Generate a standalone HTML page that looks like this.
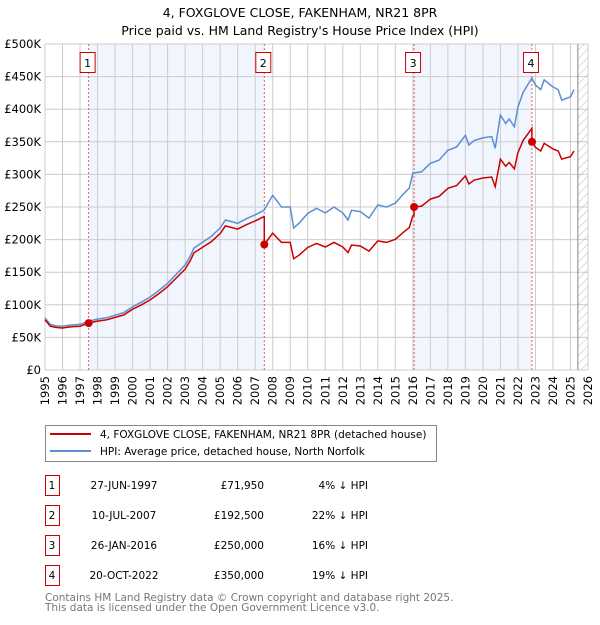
<!DOCTYPE html>
<html><head><meta charset="utf-8"><style>
body{margin:0;background:#fff;}
svg text{font-family:"DejaVu Sans","Liberation Sans",sans-serif;}
</style></head><body>
<svg id="c" width="600" height="620" xmlns="http://www.w3.org/2000/svg">
<text x="300" y="17" font-size="12.5" text-anchor="middle">4, FOXGLOVE CLOSE, FAKENHAM, NR21 8PR</text>
<text x="300" y="35" font-size="12.5" text-anchor="middle">Price paid vs. HM Land Registry's House Price Index (HPI)</text>
<g id="plot"></g>
<g>
<rect x="45.5" y="425.5" width="391" height="36" fill="#fff" stroke="#888"/>
<line x1="50" y1="434" x2="91" y2="434" stroke="#cc0000" stroke-width="2"/>
<text x="100" y="438" font-size="10.5">4, FOXGLOVE CLOSE, FAKENHAM, NR21 8PR (detached house)</text>
<line x1="50" y1="451" x2="91" y2="451" stroke="#5b8fd4" stroke-width="2"/>
<text x="100" y="455" font-size="10.5">HPI: Average price, detached house, North Norfolk</text>
</g>
<g id="table"></g>
<text x="45" y="601" font-size="10.5" fill="#777">Contains HM Land Registry data © Crown copyright and database right 2025.</text>
<text x="45" y="611" font-size="10.5" fill="#777">This data is licensed under the Open Government Licence v3.0.</text>
</svg>
<script>
const hpiYears=[1995,1995.3,1995.6,1996,1996.5,1997,1997.5,1998,1998.5,1999,1999.5,2000,2000.5,2001,2001.5,2002,2002.5,2003,2003.3,2003.5,2004,2004.5,2005,2005.3,2006,2006.5,2007,2007.5,2008,2008.5,2009,2009.2,2009.5,2010,2010.5,2011,2011.5,2012,2012.3,2012.5,2013,2013.5,2014,2014.5,2015,2015.5,2015.8,2016,2016.5,2017,2017.5,2018,2018.5,2019,2019.2,2019.5,2020,2020.5,2020.7,2021,2021.3,2021.5,2021.8,2022,2022.3,2022.8,2023,2023.3,2023.5,2024,2024.3,2024.5,2025,2025.2];
const hpiValues=[80,70,68,67,69,70,75,78,80,84,88,97,104,112,122,133,147,161,175,187,196,205,218,230,225,232,238,245,268,250,250,218,225,240,248,241,250,241,230,245,243,233,253,250,256,271,279,302,304,317,322,337,342,360,345,352,356,358,340,391,378,385,373,403,426,448,437,430,445,434,430,414,419,430];
const saleYears=[1997.49,2007.52,2016.07,2022.8];
const salePrices=[71950,192500,250000,350000];
const saleLabels=["1","2","3","4"];
const saleDates=["27-JUN-1997","10-JUL-2007","26-JAN-2016","20-OCT-2022"];
const salePriceText=["£71,950","£192,500","£250,000","£350,000"];
const saleDiffText=["4% ↓ HPI","22% ↓ HPI","16% ↓ HPI","19% ↓ HPI"];
const yTicks=[0,50,100,150,200,250,300,350,400,450,500];
const yTickLabels=["£0","£50K","£100K","£150K","£200K","£250K","£300K","£350K","£400K","£450K","£500K"];
const xTicks=[1995,1996,1997,1998,1999,2000,2001,2002,2003,2004,2005,2006,2007,2008,2009,2010,2011,2012,2013,2014,2015,2016,2017,2018,2019,2020,2021,2022,2023,2024,2025,2026];
const hatchStart=2025.42;

const X0=45,X1=588,Y0=370,Y1=44;
const xs=t=>X0+(t-1995)/(2026-1995)*(X1-X0);
const ys=v=>Y0-v/500*(Y0-Y1);
const NS="http://www.w3.org/2000/svg";
const plot=document.getElementById('plot');
function mk(tag,attrs,parent){const e=document.createElementNS(NS,tag);for(const k in attrs)e.setAttribute(k,attrs[k]);(parent||plot).appendChild(e);return e;}
function hpiAt(t){if(t<=hpiYears[0])return hpiValues[0];for(let i=1;i<hpiYears.length;i++){if(t<=hpiYears[i]){const f=(t-hpiYears[i-1])/(hpiYears[i]-hpiYears[i-1]);return hpiValues[i-1]+f*(hpiValues[i]-hpiValues[i-1]);}}return hpiValues[hpiValues.length-1];}

for(let i=0;i+1<saleYears.length;i+=2){
  const r=mk('rect',{x:xs(saleYears[i]),y:Y1,width:xs(saleYears[i+1])-xs(saleYears[i]),height:Y0-Y1,fill:'#eef3fc',opacity:0.8});
  
  
}
xTicks.forEach((t,i)=>{
  const l=mk('line',{x1:xs(t),x2:xs(t),y1:Y1,y2:Y0,stroke:'#ccc','stroke-width':1});
  
  
  const x=xs(t)+4,y=376;
  const tx=mk('text',{x:x,y:y,'font-size':11.5,'text-anchor':'end',transform:'rotate(-90 '+x+' '+y+')'});tx.textContent=t;
  
  
});
yTicks.forEach((v,i)=>{
  const l=mk('line',{x1:X0,x2:X1,y1:ys(v),y2:ys(v),stroke:'#ccc','stroke-width':1});
  
  
  const tx=mk('text',{x:41,y:ys(v)+4,'font-size':11.5,'text-anchor':'end'});tx.textContent=yTickLabels[i];
  
  
});
const defs=mk('defs',{});
const pat=mk('pattern',{id:'hatch',width:6,height:6,patternUnits:'userSpaceOnUse',patternTransform:'rotate(45)'},defs);
mk('line',{x1:0,y1:0,x2:0,y2:6,stroke:'#bbb','stroke-width':1},pat);
const hr=mk('rect',{x:xs(hatchStart),y:Y1,width:X1-xs(hatchStart),height:Y0-Y1,fill:'url(#hatch)'});


const hl=mk('line',{x1:xs(hatchStart),x2:xs(hatchStart),y1:Y1,y2:Y0,stroke:'#888','stroke-width':1});


saleYears.forEach((t,i)=>{
  const l=mk('line',{x1:xs(t),x2:xs(t),y1:Y1,y2:Y0,stroke:'#e06060','stroke-width':1,'stroke-dasharray':'2,2'});
  
  
  const r=mk('rect',{x:xs(t)-8.5,y:52.5,width:15,height:20,fill:'#fff',stroke:'#cc0000'});
  
  
  const tx=mk('text',{x:xs(t)-1,y:67,'font-size':11,'text-anchor':'middle'});tx.textContent=saleLabels[i];
  
  
});
let d='';hpiYears.forEach((t,i)=>{d+=(i?'L':'M')+xs(t).toFixed(1)+','+ys(hpiValues[i]).toFixed(1);});
const hp=mk('path',{d:d,fill:'none',stroke:'#5b8fd4','stroke-width':1.5});


let pts=[];
hpiYears.forEach(t=>pts.push(t));saleYears.forEach(t=>{pts.push(t-0.001);pts.push(t);});
pts.sort((a,b)=>a-b);
let d2='';pts.forEach((t,i)=>{let k=0;for(let j=0;j<saleYears.length;j++)if(t>=saleYears[j])k=j;
 const v=salePrices[k]/1000*hpiAt(t)/hpiAt(saleYears[k]);d2+=(i?'L':'M')+xs(t).toFixed(1)+','+ys(v).toFixed(1);});
const pp=mk('path',{d:d2,fill:'none',stroke:'#cc0000','stroke-width':1.5});


saleYears.forEach((t,i)=>{
  const c=mk('circle',{cx:xs(t),cy:ys(salePrices[i]/1000),r:4,fill:'#cc0000'});
  
  
});
const tb=document.getElementById('table');
saleLabels.forEach((s,i)=>{
  const y=475+i*30;
  const r=mk('rect',{x:45.5,y:y+0.5,width:14,height:20,fill:'#fff',stroke:'#cc0000'},tb);
  
  
  const vals=[[52,s,'middle'],[124,saleDates[i],'middle'],[264,salePriceText[i],'end'],[368,saleDiffText[i],'end']];
  vals.forEach(v=>{const tx=mk('text',{x:v[0],y:y+14,'font-size':10.5,'text-anchor':v[2]},tb);tx.textContent=v[1];
    
    });
});
</script>
</body></html>
